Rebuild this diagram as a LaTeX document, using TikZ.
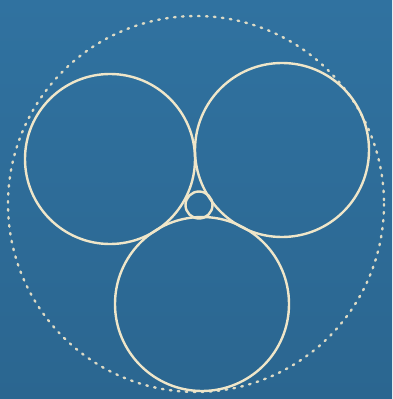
\documentclass[tikz,border=0pt]{standalone}
\usetikzlibrary{shadings}
\definecolor{bgblue}{HTML}{3072A0}
\definecolor{bgdark}{HTML}{2B6690}
\definecolor{chalk}{HTML}{EFE6C9}
\tikzset{
  ring/.style={draw=chalk, line width=1.8pt},
  dotring/.style={draw=chalk!90!bgblue, line width=1.8pt, line cap=round, dash pattern=on 1.2pt off 4.8pt}
}
\begin{document}
\begin{tikzpicture}[x=0.75pt,y=-0.75pt]
  \shade[top color=bgblue, bottom color=bgdark] (0,0) rectangle (392,399);
  \useasboundingbox (0,0) rectangle (392,399);
  \coordinate (cA) at (110,159);
  \coordinate (cB) at (282,150);
  \coordinate (cC) at (202,304);
  \coordinate (cS) at (199,205);
  \coordinate (cO) at (196,204);
  \draw[dotring] (cO) circle[radius=188];
  \draw[ring] (cA) circle[radius=85];
  \draw[ring] (cB) circle[radius=87];
  \draw[ring] (cC) circle[radius=87];
  \draw[ring] (cS) circle[radius=13.5];
\end{tikzpicture}
\end{document}
